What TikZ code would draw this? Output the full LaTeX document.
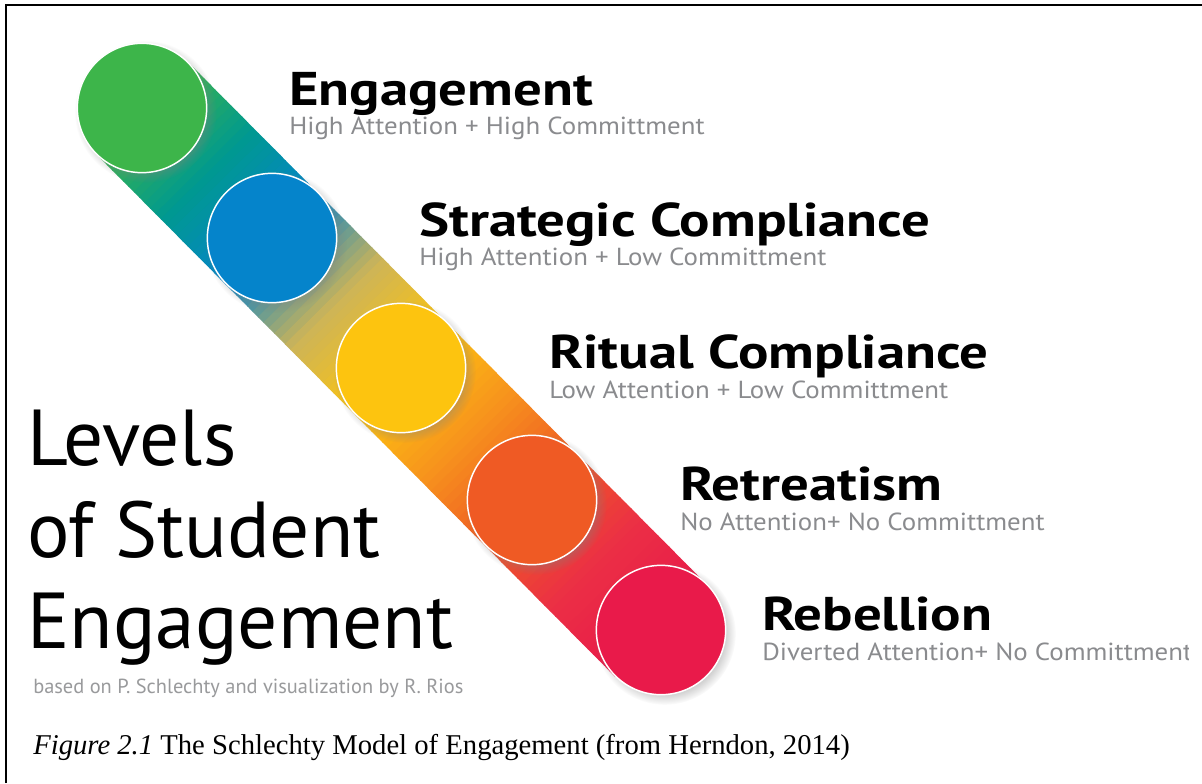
\documentclass[tikz,border=0pt]{standalone}
\usepackage{fontspec}
\setmainfont{Liberation Serif}
\setsansfont{PT Sans}
\newfontfamily\headfont{PT Sans}[FakeStretch=1.2]
\newfontfamily\subfont{PT Sans}[FakeStretch=1.09]
\usetikzlibrary{shadows,calc,positioning}

\definecolor{engcol}{HTML}{3DB54A}
\definecolor{tealcol}{HTML}{00998F}
\definecolor{stratcol}{HTML}{0584CB}
\definecolor{tancol}{HTML}{CDB458}
\definecolor{ritcol}{HTML}{FDC40F}
\definecolor{ambcol}{HTML}{F7941D}
\definecolor{retcol}{HTML}{EF5A24}
\definecolor{rosecol}{HTML}{EB2F45}
\definecolor{rebcol}{HTML}{E91A4A}
\definecolor{subgray}{HTML}{8A8B8E}
\definecolor{creditgray}{HTML}{999A9C}

\tikzstyle{dot} = [circle, draw=white, line width=1.1pt, minimum size=97pt, inner sep=0pt, circular drop shadow={shadow xshift=2.5pt, shadow yshift=-2.5pt, opacity=.35}]
\tikzstyle{heading} = [anchor=base west, inner sep=0pt, font=\headfont\bfseries\fontsize{35.5}{40}\selectfont]
\tikzstyle{subline} = [anchor=base west, inner sep=0pt, text=subgray, font=\subfont\fontsize{18.5}{21}\selectfont]
\tikzstyle{bigtitle} = [anchor=base west, inner sep=0pt, font=\sffamily\fontsize{59.5}{69}\selectfont]

\begin{document}
\begin{tikzpicture}[x=0.75pt, y=-0.75pt]
            \useasboundingbox (0,0) rectangle (1202,783);
            \fill[white] (0,0) rectangle (1202,783);
            %%%%% Frame %%%%%
            \draw[line width=1.5pt] (6,783) -- (6,5) -- (1202,5);

            %%%%% Band behind the levels %%%%%
            \coordinate (c1) at (142,108);
            \coordinate (c5) at (661,630);
            \begin{scope}[shift={(c1)}, rotate=-45.2]
              \foreach \ca/\cb [count=\k from 0] in {engcol/tealcol, tealcol/stratcol, stratcol/tancol, tancol/ritcol, ritcol/ambcol, ambcol/retcol, retcol/rosecol, rosecol/rebcol}
                \foreach \i in {0,...,11} {
                  \pgfmathsetmacro\pc{(\i+0.5)/12*100}
                  \pgfmathsetmacro\s{\k*92+\i*92/12}
                  \fill[\cb!\pc!\ca] (\s,-65) rectangle (\s+8.7,65);
                }
            \end{scope}

            %%%%% Levels %%%%%
            \node (eng) [dot, fill=engcol] at (c1) {};
            \node (strat) [dot, fill=stratcol] at (272,238) {};
            \node (ritual) [dot, fill=ritcol] at (401,368) {};
            \node (retreat) [dot, fill=retcol] at (532,500) {};
            \node (rebel) [dot, fill=rebcol] at (c5) {};

            %%%%% Labels %%%%%
            \node (engT) [heading] at (289,105) {Engagement};
            \node (engS) [subline] at (289,134) {High Attention + High Committment};
            \node (stratT) [heading] at (419,236) {Strategic Compliance};
            \node (stratS) [subline] at (419,265) {High Attention + Low Committment};
            \node (ritualT) [heading] at (549,368) {Ritual Compliance};
            \node (ritualS) [subline] at (549,398) {Low Attention + Low Committment};
            \node (retreatT) [heading] at (680,500) {Retreatism};
            \node (retreatS) [subline] at (680,530) {No Attention+ No Committment};
            \node (rebelT) [heading] at (762,630) {Rebellion};
            \begin{scope}
              \clip (0,0) rectangle (1188,783);
              \node (rebelS) [subline] at (762,660) {Diverted Attention+ No Committment};
            \end{scope}

            %%%%% Title %%%%%
            \node (lvl1) [bigtitle] at (27,465) {Levels};
            \node (lvl2) [bigtitle] at (27,557) {of Student};
            \node (lvl3) [bigtitle] at (27,648) {Engagement};
            \node (credit) [anchor=base west, inner sep=0pt, text=creditgray, font=\sffamily\fontsize{15.3}{17}\selectfont] at (33,693) {based on P. Schlechty and visualization by R. Rios};

            %%%%% Caption %%%%%
            \node (caption) [anchor=base west, inner sep=0pt, font=\fontsize{21.5}{25}\selectfont] at (33,754) {\textit{Figure 2.1} The Schlechty Model of Engagement (from Herndon, 2014)};
\end{tikzpicture}
\end{document}
